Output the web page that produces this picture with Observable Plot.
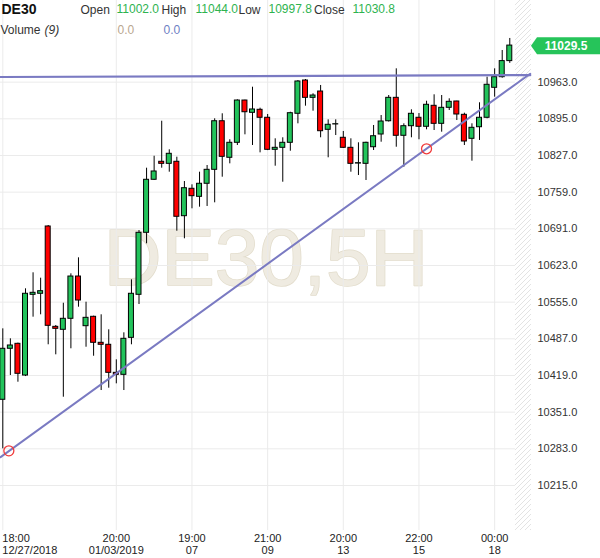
<!DOCTYPE html>
<html><head><meta charset="utf-8">
<script src="https://cdn.jsdelivr.net/npm/d3@7"></script>
<script src="https://cdn.jsdelivr.net/npm/@observablehq/plot@0.6"></script>
<style>html,body{margin:0;padding:0;background:#fff;} #chart{width:600px;height:558px;overflow:hidden}</style>
</head><body><div id="chart"></div>
<script>
// ---- data ----
const symbol = "DE30";
const watermark = "DE30,5H";
const opens  = [10373.9,10468.5,10477.7,10418.9,10568.6,10570.5,10695.3,10509.2,10503.7,10524.1,10602.5,10510.4,10527.8,10479.6,10475.9,10423.9,10420.2,10488.8,10568.6,10683.6,10781.9,10815.3,10811.5,10815.3,10714.4,10765.2,10750.3,10774.5,10800.4,10890.5,10822.7,10850.5,10928.9,10906.1,10911.7,10896.9,10837.5,10841.2,10850.5,10904.3,10966.0,10933.9,10945.6,10874.6,10884.5,10859.8,10841.2,10812.0,10811.5,10842.3,10865.9,10890.5,10933.9,10863.5,10881.3,10896.9,10880.2,10919.1,10885.7,10915.4,10927.1,10902.4,10857.9,10879.4,10896.9,10952.5,10972.2,11002.0];
const highs  = [10505.5,10487.0,10479.0,10579.7,10609.4,10599.4,10697.1,10511.7,10553.0,10607.5,10637.2,10554.9,10529.0,10531.5,10503.7,10448.0,10498.1,10596.4,10687.8,10803.4,10825.6,10890.5,10837.5,10823.8,10778.7,10772.6,10796.0,10808.4,10895.0,10904.3,10856.1,10930.2,10929.5,10953.6,10914.7,10903.0,10857.9,10859.8,10907.2,10966.0,10967.9,10941.4,10956.8,10893.1,10893.1,10871.5,10857.9,10850.5,10851.6,10882.6,10901.1,10938.2,10987.7,10885.7,10911.7,10904.8,10927.6,10939.5,10938.2,10932.1,10927.5,10905.4,10885.7,10924.7,10972.2,10987.7,11021.7,11044.0];
const lows   = [10283.0,10418.9,10406.5,10417.0,10527.1,10531.5,10475.9,10457.3,10378.7,10468.5,10545.6,10471.4,10454.7,10391.1,10395.4,10403.5,10391.1,10475.9,10550.6,10663.2,10781.0,10803.4,10796.0,10686.5,10672.5,10728.1,10731.1,10732.4,10739.2,10786.7,10811.5,10845.5,10865.3,10845.5,10831.9,10836.0,10807.1,10777.4,10834.9,10885.7,10918.4,10909.1,10859.8,10822.7,10864.0,10840.0,10796.0,10789.8,10780.6,10836.2,10851.6,10889.0,10842.3,10805.2,10859.8,10856.1,10874.6,10873.3,10870.2,10910.4,10891.8,10845.5,10816.4,10854.8,10895.0,10935.1,10970.3,10997.8];
const closes = [10468.5,10474.6,10422.1,10570.5,10572.3,10575.3,10511.1,10505.5,10524.1,10602.5,10558.0,10525.9,10479.6,10475.9,10423.9,10420.2,10487.0,10570.5,10683.6,10781.9,10797.3,10811.5,10830.1,10713.3,10766.3,10751.5,10774.5,10800.4,10890.5,10824.5,10850.5,10928.9,10907.2,10912.3,10896.9,10837.5,10841.2,10850.5,10905.4,10964.2,10933.9,10938.2,10872.0,10883.9,10885.0,10841.2,10811.5,10812.7,10850.5,10862.7,10890.0,10933.9,10863.5,10881.3,10904.3,10880.2,10921.0,10885.7,10915.4,10926.5,10903.0,10852.9,10878.3,10896.9,10958.1,10972.2,11002.0,11030.8];
const volumeVals = [0.0, 0.0];
const lastPrice = 11029.5;

const yTicks = [10215,10283,10351,10419,10487,10555,10623,10691,10759,10827,10895,10963];
const xTickIdx  = [0, 15, 25, 35, 45, 55, 65];
const xTickTime = ["18:00","20:00","19:00","21:00","20:00","22:00","00:00"];
const xTickDate = ["12/27/2018","01/03/2019","07","09","13","15","18"];

// drawn trendlines (candle index, price)
const trendX   = [-0.3, 69.7];
const supportY = [10267.6, 10978.6];
const resistY  = [10972.5, 10976.0];
const markIdx  = [0.8, 56];
const markY    = [10279.3, 10839.4];

// ---- build ----
const candles = opens.map((o, i) => ({i, o, h: highs[i], l: lows[i], c: closes[i]}));
const n = candles.length;
const xDomain = [-0.304, 69.87];
const yDomain = [10131.5, 11114.4];
const support = trendX.map((x, k) => ({x, y: supportY[k]}));
const resist  = trendX.map((x, k) => ({x, y: resistY[k]}));
const marks   = markIdx.map((x, k) => ({x, y: markY[k]}));
const last = candles[n - 1];
const GREEN = "#22c35b", RED = "#ff0000";
const fmt = v => v.toFixed(1);
const lbl = xi => { const k = xTickIdx.indexOf(xi); return xTickTime[k] + "\n" + xTickDate[k]; };

const hdr = (t, dx, dy, o = {}) => Plot.text([t], {frameAnchor: "top-left", textAnchor: "start", lineAnchor: "bottom", dx, dy, fontSize: 12, fill: "#333", ...o});

const chart = Plot.plot({
  width: 600, height: 558,
  marginLeft: 0, marginRight: 69, marginTop: 0, marginBottom: 28,
  style: {fontFamily: "'Liberation Sans', Arial, sans-serif", background: "#fff", overflow: "visible"},
  x: {type: "linear", domain: xDomain, label: null},
  y: {domain: yDomain, label: null},
  marks: [
    Plot.text([watermark], {frameAnchor: "middle", dy: -6.5, fontSize: 80, fill: "#efebe1", stroke: "#e2dccb", strokeWidth: 1.5}),
    Plot.gridY(yTicks, {stroke: "#ebebeb", strokeOpacity: 1}),
    Plot.gridX(xTickIdx, {stroke: "#ebebeb", strokeOpacity: 1}),
    Plot.rect([{x1: n - 1 + 0.75, x2: xDomain[1]}], {x1: "x1", x2: "x2", fill: "url(#hatch)"}),
    Plot.ruleX(candles, {x: "i", y1: "l", y2: "h", stroke: "#000", strokeWidth: 1}),
    Plot.rect(candles, {x1: d => d.i - 0.33, x2: d => d.i + 0.33, y1: "o", y2: "c",
      fill: d => d.c >= d.o ? GREEN : RED, stroke: "#000", strokeWidth: 1}),
    Plot.line(resist, {x: "x", y: "y", stroke: "#7a7ac2", strokeWidth: 2.2}),
    Plot.line(support, {x: "x", y: "y", stroke: "#7a7ac2", strokeWidth: 2}),
    Plot.dot(marks, {x: "x", y: "y", r: 5, stroke: "#f03a3a", strokeWidth: 1.3, fill: "none"}),
    Plot.axisY(yTicks, {anchor: "right", tickSize: 0, tickPadding: 6, tickFormat: fmt, fontSize: 11, color: "#333", label: null}),
    Plot.axisX(xTickIdx.slice(0, 1), {anchor: "bottom", tickSize: 0, tickPadding: 3, tickFormat: lbl, fontSize: 11, lineHeight: 12/11, textAnchor: "start", dx: -0.5, color: "#222", label: null}),
    Plot.axisX(xTickIdx.slice(1), {anchor: "bottom", tickSize: 0, tickPadding: 3, tickFormat: lbl, fontSize: 11, lineHeight: 12/11, color: "#222", label: null}),
    hdr(symbol, 1, 13.5, {fontSize: 14, fontWeight: "bold", fill: "#111"}),
    hdr("Open", 80, 13.5),
    hdr(fmt(last.o), 116, 12, {fill: "#2eb34f"}),
    hdr("High", 161, 13.5),
    hdr(fmt(last.h), 195, 12, {fill: "#2eb34f"}),
    hdr("Low", 238, 13.5),
    hdr(fmt(last.l), 268, 12, {fill: "#2eb34f"}),
    hdr("Close", 313.5, 13.5),
    hdr(fmt(last.c), 352, 12, {fill: "#2eb34f"}),
    hdr("Volume", 0, 33.5),
    hdr("(9)", 44, 33.5, {fontStyle: "italic"}),
    hdr(fmt(volumeVals[0]), 117, 33, {fill: "#b9a690"}),
    hdr(fmt(volumeVals[1]), 163, 33, {fill: "#6f7fc4"})
  ]
});

const svg = d3.select(chart);
svg.insert("defs", ":first-child").html(
  '<pattern id="hatch" width="5" height="5" patternUnits="userSpaceOnUse">' +
  '<rect width="5" height="5" fill="#fff"/>' +
  '<path d="M-1,1 l2,-2 M0,5 l5,-5 M4,6 l2,-2" stroke="#e3e3e3" stroke-width="1"/></pattern>');

// price tag on the right axis, placed via the y scale
const ty = chart.scale("y").apply(lastPrice);
const xr = 531;
const tag = svg.append("g");
tag.append("path")
  .attr("d", `M${xr},${ty} L${xr + 6},${ty - 8.5} L600,${ty - 8.5} L600,${ty + 8.5} L${xr + 6},${ty + 8.5} Z`)
  .attr("fill", "#26c45a");
tag.append("text").attr("x", 566).attr("y", ty + 4.2).attr("text-anchor", "middle")
  .attr("fill", "#fff").attr("font-size", 12).attr("font-weight", "bold").text(fmt(lastPrice));

document.getElementById("chart").appendChild(chart);
</script></body></html>
